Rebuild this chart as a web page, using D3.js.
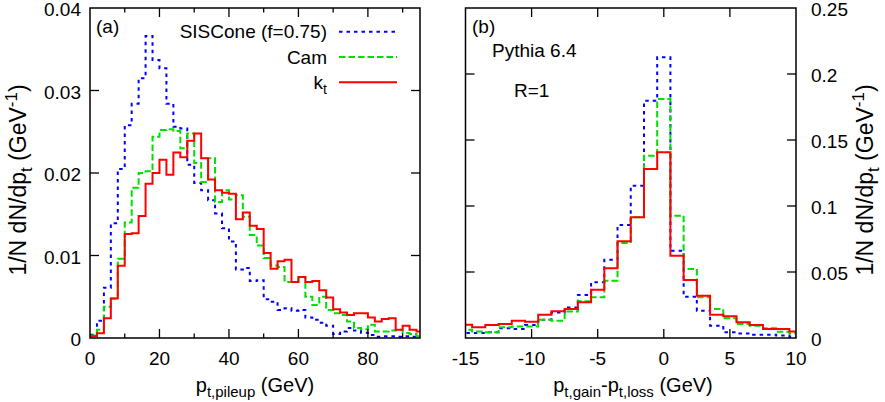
<!DOCTYPE html>
<html>
<head>
<meta charset="utf-8">
<title>pileup and gain-loss histograms</title>
<script src="https://cdn.jsdelivr.net/npm/d3@7"></script>
<style>
body { margin: 0; background: #fff; }
text { font-family: "Liberation Sans", Arial, sans-serif; fill: #000; }
</style>
</head>
<body>
<script>

// panel (a): p_t,pileup, 2 GeV bins, lower edges
var pileupEdges = [0, 2, 4, 6, 8, 10, 12, 14, 16, 18, 20, 22, 24, 26, 28, 30, 32, 34, 36, 38,
  40, 42, 44, 46, 48, 50, 52, 54, 56, 58, 60, 62, 64, 66, 68, 70, 72, 74, 76, 78,
  80, 82, 84, 86, 88, 90, 92, 94];
var pileupBin = 2;
var pileupSis = [0.0004, 0.0021, 0.0061, 0.0139, 0.0205, 0.0258, 0.0284, 0.0315, 0.0366, 0.0337,
  0.0327, 0.0284, 0.0256, 0.0254, 0.0210, 0.0188, 0.0179, 0.0167, 0.0151, 0.0133,
  0.0117, 0.0083, 0.0085, 0.0069, 0.0070, 0.0047, 0.0044, 0.0034, 0.0036, 0.0033,
  0.0034, 0.0025, 0.0022, 0.00185, 0.0015, 0.0005, 0.0008, 0.0012, 0.0009, 0.00065,
  0.00036, 0.00016, 0.0002, 0.0002, 0.00015, 0.0002, 0.00015, 0.0001];
var pileupCam = [0.0003, 0.0010, 0.0038, 0.0048, 0.0096, 0.0140, 0.0182, 0.0200, 0.0202, 0.0244,
  0.0252, 0.0253, 0.0251, 0.0230, 0.0248, 0.0212, 0.0189, 0.0218, 0.0165, 0.0179,
  0.0168, 0.0173, 0.0147, 0.0125, 0.0112, 0.0097, 0.0088, 0.0086, 0.0068, 0.0068,
  0.0074, 0.0050, 0.0040, 0.0050, 0.0034, 0.0030, 0.0028, 0.0020, 0.0012, 0.00105,
  0.0016, 0.0008, 0.0008, 0.0009, 0.0010, 0.0006, 0.0005, 0.0002];
var pileupKt = [0.0002, 0.00057, 0.00238, 0.0048, 0.00877, 0.0126, 0.0127, 0.0148, 0.0187, 0.0200,
  0.0216, 0.0198, 0.0225, 0.0219, 0.0239, 0.0248, 0.0218, 0.0192, 0.0179, 0.0176,
  0.0175, 0.0144, 0.0152, 0.0136, 0.0132, 0.0103, 0.0084, 0.0093, 0.0095, 0.0068,
  0.0074, 0.0068, 0.0069, 0.0058, 0.0049, 0.0035, 0.0031, 0.0028, 0.0030, 0.0030,
  0.0025, 0.0020, 0.0023, 0.0024, 0.0010, 0.0015, 0.0010, 0.0008];

// panel (b): p_t,gain - p_t,loss, 1 GeV bins, centres
var diffCentres = [-15, -14, -13, -12, -11, -10, -9, -8, -7, -6, -5, -4, -3, -2, -1, 0,
  1, 2, 3, 4, 5, 6, 7, 8, 9, 10];
var diffBin = 1;
var diffSis = [0.0038, 0.0038, 0.0043, 0.0073, 0.0068, 0.0098, 0.0139, 0.0194, 0.0232, 0.0326,
  0.0422, 0.0593, 0.0856, 0.1154, 0.1798, 0.2126, 0.0661, 0.0313, 0.0207, 0.0093,
  0.0043, 0.0035, 0.0025, 0.0025, 0.0018, 0.0010];
var diffCam = [0.0063, 0.0050, 0.0043, 0.0081, 0.0088, 0.0088, 0.0139, 0.0131, 0.0200, 0.0278,
  0.0308, 0.0434, 0.0720, 0.0914, 0.1380, 0.1810, 0.0927, 0.0523, 0.0308, 0.0220,
  0.0149, 0.0106, 0.0093, 0.0073, 0.0048, 0.0035];
var diffKt = [0.0101, 0.0081, 0.0098, 0.0106, 0.0131, 0.0124, 0.0177, 0.0202, 0.0220, 0.0270,
  0.0366, 0.0528, 0.0733, 0.0914, 0.1280, 0.1407, 0.0624, 0.0439, 0.0321, 0.0177,
  0.0164, 0.0119, 0.0098, 0.0068, 0.0068, 0.0050];

var seriesNames = ["SISCone (f=0.75)", "Cam", "kt"];
var seriesColors = ["#0000ff", "#00e000", "#ff0000"];
var seriesDash = ["3.5,4", "6.5,3", null];

var pileupMajor = [0, 20, 40, 60, 80];
var pileupMinor = [10, 30, 50, 70, 90];
var pileupYTicks = [0, 0.01, 0.02, 0.03, 0.04];
var diffTicks = [-15, -10, -5, 0, 5, 10];
var diffYTicks = [0, 0.05, 0.1, 0.15, 0.2, 0.25];

var W = 885, H = 402;
var plotTop = 8, plotBottom = 338;
var fs = 19;

var svg = d3.select("body").append("svg")
  .attr("width", W)
  .attr("height", H);

// scales
var xa = d3.scaleLinear().domain([0, 95]).range([90, 420]);
var ya = d3.scaleLinear().domain([0, 0.04]).range([plotBottom, plotTop]);
var xb = d3.scaleLinear().domain([-15, 10]).range([465.5, 796]);
var yb = d3.scaleLinear().domain([0, 0.25]).range([plotBottom, plotTop]);

function drawClip(g, x, y, id) {
  g.append("clipPath").attr("id", id)
    .append("rect")
    .attr("x", x.range()[0]).attr("y", y.range()[1])
    .attr("width", x.range()[1] - x.range()[0])
    .attr("height", y.range()[0] - y.range()[1]);
}

function histPath(edges, vals, w, x, y) {
  var pts = edges.map(function(e, i) { return [e, vals[i]]; });
  pts.push([edges[edges.length - 1] + w, vals[vals.length - 1]]);
  return d3.line()
    .x(function(d) { return x(d[0]); })
    .y(function(d) { return y(d[1]); })
    .curve(d3.curveStepAfter)(pts);
}

function drawHists(g, edges, w, list, x, y, clipId) {
  var hg = g.append("g").attr("clip-path", "url(#" + clipId + ")");
  list.forEach(function(vals, i) {
    hg.append("path")
      .attr("d", histPath(edges, vals, w, x, y))
      .attr("fill", "none")
      .attr("stroke", seriesColors[i])
      .attr("stroke-width", 2)
      .attr("stroke-dasharray", seriesDash[i]);
  });
}

function drawAxes(g, x, y, xMajor, xMinor, yTicks, yLabelSide) {
  var x0 = x.range()[0], x1 = x.range()[1];
  var y0 = y.range()[0], y1 = y.range()[1];
  var major = 9, minor = 4.5;
  var tk = g.append("g").attr("stroke", "#000").attr("stroke-width", 1.3);
  xMajor.concat(xMinor).forEach(function(v) {
    var len = xMajor.indexOf(v) >= 0 ? major : minor;
    if (v <= x.domain()[0] || v >= x.domain()[1]) return;
    tk.append("line").attr("x1", x(v)).attr("x2", x(v)).attr("y1", y0).attr("y2", y0 - len);
    tk.append("line").attr("x1", x(v)).attr("x2", x(v)).attr("y1", y1).attr("y2", y1 + len);
  });
  yTicks.forEach(function(v) {
    if (v <= y.domain()[0] || v >= y.domain()[1]) return;
    tk.append("line").attr("x1", x0).attr("x2", x0 + major).attr("y1", y(v)).attr("y2", y(v));
    tk.append("line").attr("x1", x1).attr("x2", x1 - major).attr("y1", y(v)).attr("y2", y(v));
  });
  g.append("rect")
    .attr("x", x0).attr("y", y1)
    .attr("width", x1 - x0).attr("height", y0 - y1)
    .attr("fill", "none").attr("stroke", "#000").attr("stroke-width", 1.5);

  g.selectAll(null).data(xMajor).enter().append("text")
    .attr("x", function(d) { return x(d); })
    .attr("y", 365)
    .attr("text-anchor", "middle")
    .style("font-size", fs + "px")
    .text(function(d) { return d; });

  g.selectAll(null).data(yTicks).enter().append("text")
    .attr("x", yLabelSide == "left" ? x0 - 9 : x1 + 15)
    .attr("y", function(d) { return y(d) + 8; })
    .attr("text-anchor", yLabelSide == "left" ? "end" : "start")
    .style("font-size", fs + "px")
    .text(function(d) { return d; });
}

function yTitle(cx, cy) {
  var t = svg.append("text")
    .attr("transform", "translate(" + cx + "," + cy + ") rotate(-90)")
    .attr("text-anchor", "middle")
    .style("font-size", "23px");
  t.append("tspan").text("1/N dN/dp");
  t.append("tspan").attr("dy", 6).style("font-size", "17px").text("t");
  t.append("tspan").attr("dy", -6).text(" (GeV");
  t.append("tspan").attr("dy", -9).style("font-size", "17px").text("-1");
  t.append("tspan").attr("dy", 9).text(")");
}

// ---- panel (a)
var ga = svg.append("g");
drawClip(ga, xa, ya, "clipA");
drawHists(ga, pileupEdges, pileupBin, [pileupSis, pileupCam, pileupKt], xa, ya, "clipA");
drawAxes(ga, xa, ya, pileupMajor, pileupMinor, pileupYTicks, "left");

// ---- panel (b)
var diffEdges = diffCentres.map(function(c) { return c - diffBin / 2; });
var gb = svg.append("g");
drawClip(gb, xb, yb, "clipB");
drawHists(gb, diffEdges, diffBin, [diffSis, diffCam, diffKt], xb, yb, "clipB");
drawAxes(gb, xb, yb, diffTicks, [], diffYTicks, "right");

// legend in panel (a)
seriesNames.forEach(function(name, i) {
  var ly = 31.7 + i * 25.3;
  ga.append("line")
    .attr("x1", 339).attr("x2", 397).attr("y1", ly).attr("y2", ly)
    .attr("stroke", seriesColors[i]).attr("stroke-width", 2)
    .attr("stroke-dasharray", seriesDash[i]);
  var t = ga.append("text")
    .attr("x", 327).attr("y", ly + 6.5)
    .attr("text-anchor", "end")
    .style("font-size", fs + "px");
  if (name == "kt") {
    t.append("tspan").text("k");
    t.append("tspan").attr("dy", 5).style("font-size", "14px").text("t");
  } else {
    t.text(name);
  }
});

// panel labels
ga.append("text").attr("x", 96).attr("y", 33).style("font-size", fs + "px").text("(a)");
gb.append("text").attr("x", 472).attr("y", 33).style("font-size", fs + "px").text("(b)");
gb.append("text").attr("x", 492).attr("y", 57).style("font-size", fs + "px").text("Pythia 6.4");
gb.append("text").attr("x", 514).attr("y", 97).style("font-size", fs + "px").text("R=1");

// axis titles
yTitle(26, 180);
yTitle(873, 180);

var xt1 = svg.append("text")
  .attr("x", 255).attr("y", 392)
  .attr("text-anchor", "middle")
  .style("font-size", "20px");
xt1.append("tspan").text("p");
xt1.append("tspan").attr("dy", 5).style("font-size", "15px").text("t,pileup");
xt1.append("tspan").attr("dy", -5).text(" (GeV)");

var xt2 = svg.append("text")
  .attr("x", 633).attr("y", 392)
  .attr("text-anchor", "middle")
  .style("font-size", "20px");
xt2.append("tspan").text("p");
xt2.append("tspan").attr("dy", 5).style("font-size", "15px").text("t,gain");
xt2.append("tspan").attr("dy", -5).text("-p");
xt2.append("tspan").attr("dy", 5).style("font-size", "15px").text("t,loss");
xt2.append("tspan").attr("dy", -5).text(" (GeV)");

</script>
</body>
</html>
